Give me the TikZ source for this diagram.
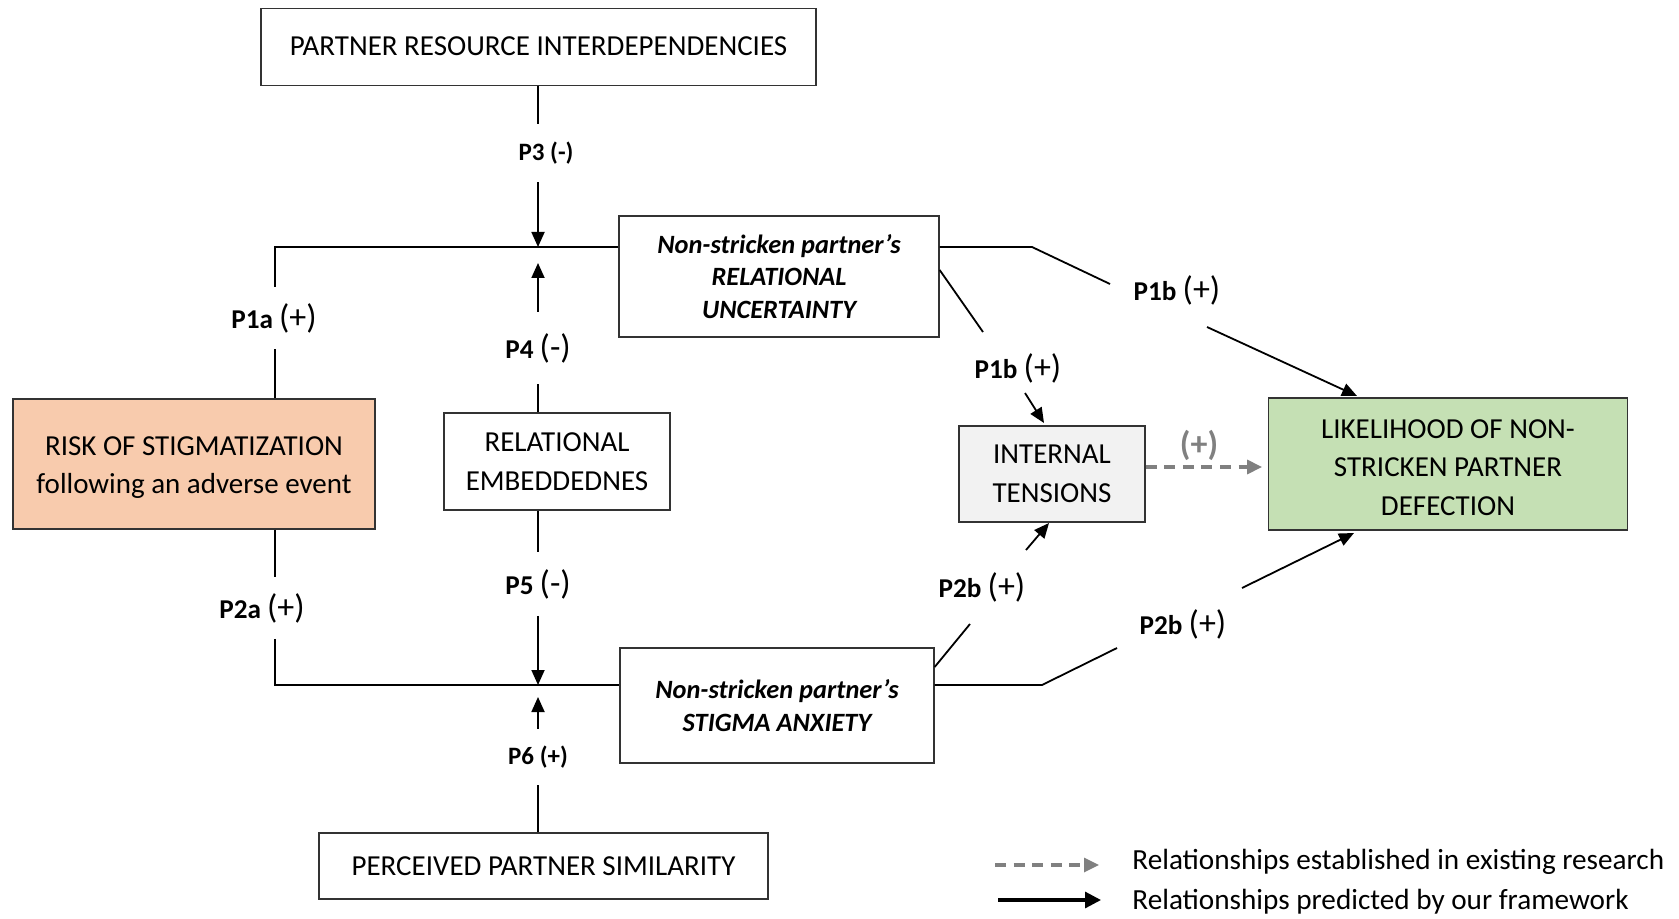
\documentclass[tikz,border=0pt]{standalone}
\usepackage{fontspec}
\setmainfont{Carlito}
\usetikzlibrary{arrows.meta}
\definecolor{riskc}{HTML}{F8CBAD}
\definecolor{ldc}{HTML}{C5E0B4}
\definecolor{itc}{HTML}{F2F2F2}
\definecolor{dgray}{HTML}{808080}
\newcommand{\bigpar}[1]{{\fontsize{17}{17}\selectfont\mdseries #1}}
\newcommand{\topstrut}{\rule{0pt}{13pt}}
\tikzset{
  box/.style={draw=black!80, line width=0.65pt, inner sep=0pt, align=center,
    font=\fontsize{14.5}{19.25}\selectfont},
  itbox/.style={box, font=\bfseries\itshape\fontsize{13.2}{16.25}\selectfont},
  labs/.style={inner sep=0pt, font=\bfseries\fontsize{12.5}{13}\selectfont},
  labm/.style={inner sep=0pt, font=\bfseries\fontsize{13.6}{14}\selectfont},
  conn/.style={line width=0.9pt, black},
  arr/.style={conn, -{Triangle[length=7.5pt,width=6.5pt]}},
  darr/.style={line width=1.6pt, dgray, dash pattern=on 5.5pt off 3.8pt, -{Triangle[length=7.5pt,width=7pt]}},
  legtext/.style={inner sep=0pt, anchor=west, font=\fontsize{14.6}{16}\selectfont},
}
\begin{document}
\begin{tikzpicture}[x=0.5pt,y=-0.5pt]
\useasboundingbox (0,0) rectangle (1679,919);
% boxes
\node[box, minimum width=277.5pt, minimum height=38.5pt] (pri) at (538.5,46.7) {PARTNER RESOURCE INTERDEPENDENCIES};
\node[itbox, minimum width=160pt, minimum height=60.5pt] (ru) at (779,276.5) {Non-stricken partner’s\\RELATIONAL\\UNCERTAINTY};
\node[box, fill=riskc, minimum width=181pt, minimum height=65pt] (risk) at (194,464) {\topstrut RISK OF STIGMATIZATION\\following an adverse event};
\node[box, minimum width=113pt, minimum height=48.5pt] (re) at (557,461.5) {RELATIONAL\\EMBEDDEDNES};
\node[itbox, minimum width=157pt, minimum height=57.5pt] (sa) at (777,705.5) {Non-stricken partner’s\\STIGMA ANXIETY};
\node[box, minimum width=224.5pt, minimum height=33pt] (pps) at (543.5,866) {PERCEIVED PARTNER SIMILARITY};
\node[box, fill=itc, minimum width=93pt, minimum height=48pt] (it) at (1052,474) {INTERNAL\\TENSIONS};
\node[box, fill=ldc, minimum width=179.75pt, minimum height=66pt] (ld) at (1448,464) {\topstrut LIKELIHOOD OF NON-\\STRICKEN PARTNER\\DEFECTION};
% junctions
\coordinate (jU) at (538,247);
\coordinate (jL) at (538,685);
\coordinate (cU) at (275,247);
\coordinate (cL) at (275,685);
% labels
\node[labs, minimum height=29pt] (p3) at (546,153) {P3 (-)};
\node[labm, minimum height=36pt] (p4) at (538,348) {P4 \bigpar{(-)}};
\node[labm, minimum height=31.5pt] (p5) at (538,584) {P5 \bigpar{(-)}};
\node[labs, minimum height=28pt] (p6) at (538,757) {P6 (+)};
\node[labm, minimum height=31pt] (p1a) at (274,318) {P1a \bigpar{(+)}};
\node[labm, minimum height=30.5pt] (p2a) at (262,608) {P2a \bigpar{(+)}};
\node[labm] (p1b) at (1177,290) {P1b \bigpar{(+)}};
\node[labm] (p1bb) at (1018,368) {P1b \bigpar{(+)}};
\node[labm] (p2b) at (982,587) {P2b \bigpar{(+)}};
\node[labm] (p2bb) at (1183,624) {P2b \bigpar{(+)}};
\node[inner sep=0pt, text=dgray, font=\bfseries\fontsize{17}{17}\selectfont] (gp) at (1199,445) {(+)};
% vertical connectors
\draw[conn] (pri.south -| jU) -- (p3.north -| jU);
\draw[arr] (p3.south -| jU) -- (jU);
\draw[arr, shorten >=8pt] (p4.north -| jU) -- (jU);
\draw[conn] (re.north -| jU) -- (p4.south -| jU);
\draw[conn] (re.south -| jL) -- (p5.north -| jL);
\draw[arr] (p5.south -| jL) -- (jL);
\draw[arr, shorten >=6pt] (p6.north -| jL) -- (jL);
\draw[conn] (pps.north -| jL) -- (p6.south -| jL);
% left connectors
\draw[conn] (ru.west |- jU) -- (cU) -- (cU |- p1a.north);
\draw[conn] (cU |- p1a.south) -- (cU |- risk.north);
\draw[conn] (cL |- risk.south) -- (cL |- p2a.north);
\draw[conn] (cL |- p2a.south) -- (cL) -- (sa.west |- jL);
% RU to LD
\coordinate (a1) at (1032,247);
\coordinate (a2) at (1110,284);
\coordinate (a3) at (1207,327);
\coordinate (a4) at (1357,396);
\draw[conn] (ru.east |- a1) -- (a1) -- (a2);
\draw[arr] (a3) -- (a4);
% RU to IT
\coordinate (b1) at (938,270);
\coordinate (b2) at (983,332);
\coordinate (b3) at (1025,393);
\coordinate (b4) at (1044,423);
\draw[conn] (ru.east |- b1) -- (b2);
\draw[arr] (b3) -- (b4);
% SA to IT
\coordinate (c1) at (936,667);
\coordinate (c2) at (970,624);
\coordinate (c3) at (1026,550);
\coordinate (c4) at (1049,523);
\draw[conn] (sa.east |- c1) -- (c2);
\draw[arr] (c3) -- (c4);
% SA to LD
\coordinate (d1) at (1042,685);
\coordinate (d2) at (1117,648);
\coordinate (d3) at (1242,588);
\coordinate (d4) at (1354,533);
\draw[conn] (sa.east |- d1) -- (d1) -- (d2);
\draw[arr] (d3) -- (d4);
% IT to LD dashed
\coordinate (e1) at (1145,467);
\draw[darr, shorten >=2.75pt] (it.east |- e1) -- (ld.west |- e1);
% legend
\node[legtext] (leg1) at (1132,862) {Relationships established in existing research};
\node[legtext] (leg2) at (1132,902) {Relationships predicted by our framework};
\coordinate (l1) at (995,865);
\coordinate (l2) at (998,900);
\draw[darr, shorten >=16.5pt] (l1) -- (l1 -| leg1.west);
\draw[line width=1.6pt, -{Triangle[length=8pt,width=8pt]}, shorten >=15.5pt] (l2) -- (l2 -| leg2.west);
\end{tikzpicture}
\end{document}
